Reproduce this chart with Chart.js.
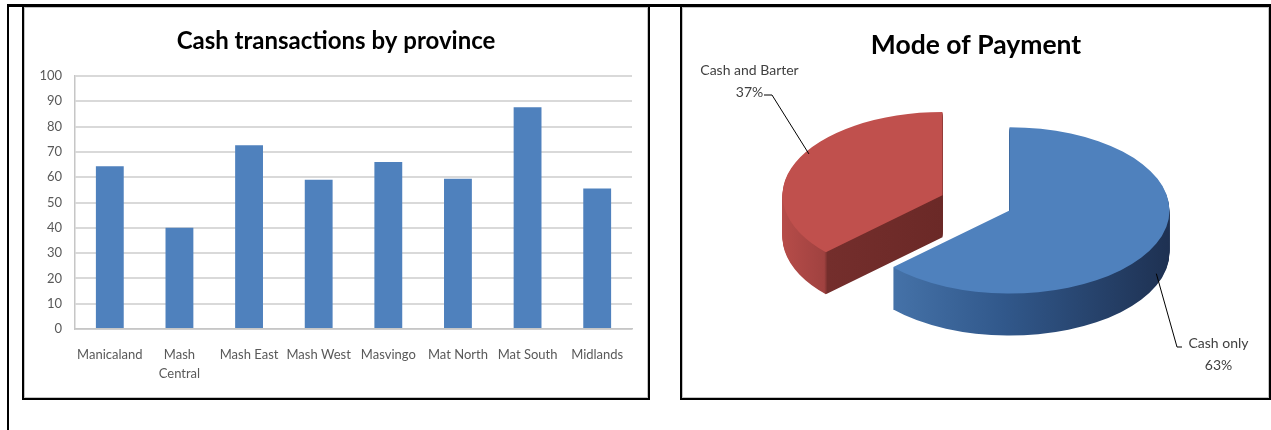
<!DOCTYPE html>
<html>
<head>
<meta charset="utf-8">
<title>Cash transactions and mode of payment</title>
<script src="https://cdn.jsdelivr.net/npm/chart.js@4.4.1/dist/chart.umd.min.js"></script>
<style>
  html, body { margin: 0; padding: 0; background: #fff; }
  body { width: 1271px; height: 430px; position: relative; overflow: hidden; }
  .rule { position: absolute; background: #000; }
  .panel { position: absolute; box-sizing: border-box; border: 2px solid #000; border-top: 0;
           box-shadow: inset 0 0 0 1px #c4c4c4; }
  canvas { position: absolute; }
</style>
</head>
<body>
<div class="rule" style="left:7px;top:4px;width:1264px;height:3px"></div>
<div class="rule" style="left:7px;top:4px;width:2px;height:426px"></div>
<div class="panel" style="left:22px;top:7px;width:628px;height:393px"></div>
<div class="panel" style="left:680px;top:7px;width:591px;height:393px"></div>
<canvas id="bars" width="624" height="389" style="left:24px;top:9px"></canvas>
<canvas id="pie" width="587" height="389" style="left:682px;top:9px"></canvas>

<script>
// ---- data ----
const provinces = ['Manicaland', 'Mash Central', 'Mash East', 'Mash West',
                   'Masvingo', 'Mat North', 'Mat South', 'Midlands'];
const cashTransactions = [64.3, 40, 72.6, 59, 66, 59.4, 87.6, 55.5];
const percentTicks = [0, 10, 20, 30, 40, 50, 60, 70, 80, 90, 100];

const paymentModes = ['Cash only', 'Cash and Barter'];
const paymentShares = [63, 37];

// ---- styling ----
const FONT = 'Lato, "Open Sans", sans-serif';
const BAR_BLUE = '#4f81bd';
const SLICE_TOPS = ['#4f81bd', '#c0504d'];
// side-wall shades for each slice, as [position, colour] stops across its visible width
const SLICE_SIDES = [
  [[0, '#4572a8'], [0.4, '#31588b'], [1, '#1e3152']],
  [[0, '#b64c49'], ['edge', '#a04240'], ['edge+', '#742e2c'], [1, '#6b2927']]
];

Chart.defaults.font.family = FONT;
Chart.defaults.animation = false;
Chart.defaults.events = [];

// ---- column chart ----
new Chart(document.getElementById('bars'), {
  type: 'bar',
  data: {
    labels: provinces,
    datasets: [{
      data: cashTransactions,
      backgroundColor: BAR_BLUE,
      borderWidth: 0,
      categoryPercentage: 1,
      barPercentage: 0.4
    }]
  },
  options: {
    responsive: false,
    devicePixelRatio: 1,
    layout: { padding: { left: 16, right: 16, top: 0, bottom: 0 } },
    plugins: {
      legend: { display: false },
      tooltip: { enabled: false },
      title: {
        display: true,
        text: 'Cash transactions by province',
        color: '#000',
        font: { family: FONT, size: 24, weight: 'bold' },
        padding: { top: 17.6, bottom: 20.6 }
      }
    },
    scales: {
      x: {
        grid: { display: false, drawTicks: false },
        border: { color: '#c6c6c6', width: 1.5 },
        ticks: {
          color: '#595959',
          font: { family: FONT, size: 13, lineHeight: 1.45 },
          padding: 16.5,
          maxRotation: 0,
          autoSkip: false,
          callback(value) {
            const name = this.getLabelForValue(value);
            return name.length > 10 ? name.split(' ') : name;
          }
        },
        afterFit(scale) { scale.height = 69; }
      },
      y: {
        min: 0,
        max: 100,
        grid: { color: '#d9d9d9', lineWidth: 2, drawTicks: false },
        border: { color: '#c6c6c6', width: 1.5 },
        ticks: { color: '#595959', font: { family: FONT, size: 13 }, padding: 13 },
        afterBuildTicks(scale) { scale.ticks = percentTicks.map(v => ({ value: v })); },
        afterFit(scale) { scale.width = 35; }
      }
    }
  }
});

// ---- tilted, exploded 3-D pie drawn from the library's arc elements ----
const pie3d = {
  id: 'pie3d',
  geometry(chart, opts) {
    return chart.getDatasetMeta(0).data.map((el, i) => {
      const mid = (el.startAngle + el.endAngle) / 2;
      const ox = Math.cos(mid) * opts.explode;
      const oy = Math.sin(mid) * opts.explode;
      return { el, i, mid, ox, oy,
               vx: el.x + ox, vy: el.y + oy * opts.tilt, R: el.outerRadius };
    });
  },
  sideFill(ctx, g) {
    const el = g.el;
    const pts = [el.x + Math.cos(el.startAngle) * g.R, el.x + Math.cos(el.endAngle) * g.R];
    // visible wall spans from the lower arc's leftmost reach to its rightmost reach
    const crossesLeft = el.startAngle <= Math.PI && el.endAngle >= Math.PI;
    const crossesRight = el.startAngle <= 0 && el.endAngle >= 0;
    const x0 = crossesLeft ? el.x - g.R : Math.min(...pts, el.x);
    const x1 = crossesRight ? el.x + g.R : Math.max(...pts, el.x);
    const grad = ctx.createLinearGradient(x0, 0, x1, 0);
    const edgeX = el.x + Math.cos(el.startAngle) * g.R;
    const edgeT = Math.min(Math.max((edgeX - x0) / (x1 - x0), 0.02), 0.97);
    SLICE_SIDES[g.i].forEach(([t, c]) => {
      const pos = t === 'edge' ? edgeT - 0.01 : t === 'edge+' ? edgeT + 0.01 : t;
      grad.addColorStop(pos, c);
    });
    return grad;
  },
  beforeDatasetsDraw(chart, args, opts) {
    const ctx = chart.ctx;
    const dpr = chart.currentDevicePixelRatio || 1;
    const f = opts.tilt;
    const parts = this.geometry(chart, opts).sort((a, b) => a.oy - b.oy);
    parts.forEach(g => {
      const cy = g.el.y;
      const side = this.sideFill(ctx, g);
      for (let k = opts.depth; k >= 0; k--) {
        ctx.save();
        ctx.setTransform(dpr, 0, 0, dpr * f, 0, dpr * (cy * (1 - f) + k));
        ctx.translate(g.ox, g.oy);
        const face = Object.create(g.el);
        face.options = Object.assign({}, g.el.options, {
          backgroundColor: k === 0 ? g.el.options.backgroundColor : side,
          borderWidth: 0,
          offset: 0
        });
        g.el.draw.call(face, ctx);
        ctx.restore();
      }
    });
    return false;
  },
  afterDraw(chart, args, opts) {
    const ctx = chart.ctx;
    const total = paymentShares.reduce((s, v) => s + v, 0);
    const parts = this.geometry(chart, opts);
    ctx.save();
    parts.forEach(g => {
      const lay = opts.labels[g.i];
      const ax = g.vx + Math.cos(g.mid) * g.R * lay.reach;
      const ay = g.vy + Math.sin(g.mid) * g.R * lay.reach * opts.tilt + lay.drop * opts.depth;
      ctx.strokeStyle = '#000';
      ctx.lineWidth = 1;
      ctx.beginPath();
      ctx.moveTo(ax, ay);
      ctx.lineTo(lay.elbow[0], lay.elbow[1]);
      ctx.lineTo(lay.elbow[0] + lay.tail, lay.elbow[1]);
      ctx.stroke();

      const pct = Math.round(paymentShares[g.i] / total * 100) + '%';
      ctx.fillStyle = '#404040';
      ctx.font = '14px ' + FONT;
      ctx.textAlign = 'center';
      ctx.textBaseline = 'middle';
      ctx.fillText(paymentModes[g.i], lay.text[0], lay.text[1]);
      ctx.fillText(pct, lay.text[0], lay.text[1] + 22);
    });
    ctx.restore();
  }
};

new Chart(document.getElementById('pie'), {
  type: 'pie',
  data: {
    labels: paymentModes,
    datasets: [{
      data: paymentShares,
      backgroundColor: SLICE_TOPS,
      borderWidth: 0,
      radius: 160,
      clip: false
    }]
  },
  options: {
    responsive: false,
    devicePixelRatio: 1,
    radius: 160,
    layout: { padding: { left: 1, right: 0, top: 0, bottom: 53.2 } },
    plugins: {
      legend: { display: false },
      tooltip: { enabled: false },
      title: {
        display: true,
        text: 'Mode of Payment',
        color: '#000',
        font: { family: FONT, size: 26.5, weight: 'bold' },
        padding: { top: 20.1, bottom: 0 }
      },
      pie3d: {
        tilt: 0.52,
        depth: 42,
        explode: 36.5,
        labels: [
          { reach: 1.0, drop: 0.72, elbow: [495, 338], tail: 5, text: [536.5, 334] },
          { reach: 0.91, drop: -0.27, elbow: [90, 86], tail: -8, text: [67.5, 61] }
        ]
      }
    }
  },
  plugins: [pie3d]
});
</script>
</body>
</html>
